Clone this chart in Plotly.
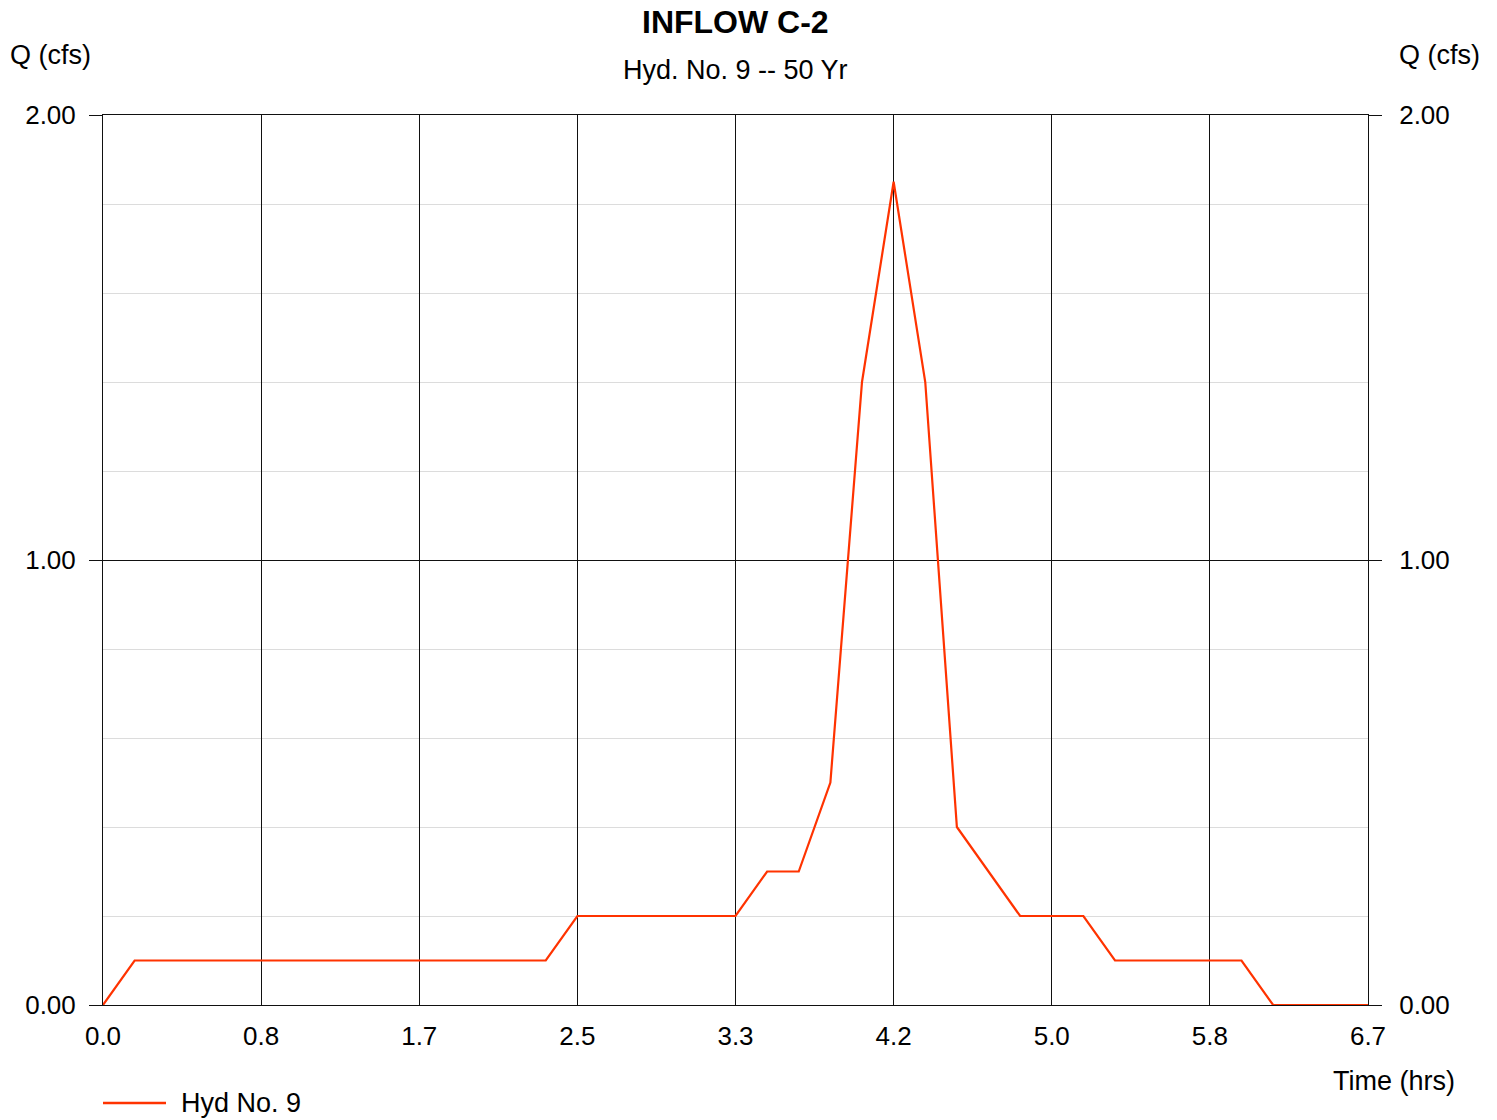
import plotly.graph_objects as go

# ---- data ----
TIME_STEP_HRS = 0.1675
q_cfs = [0.0,
         0.1, 0.1, 0.1, 0.1, 0.1, 0.1, 0.1, 0.1, 0.1, 0.1, 0.1, 0.1, 0.1, 0.1,
         0.2, 0.2, 0.2, 0.2, 0.2, 0.2,
         0.3, 0.3, 0.5, 1.4, 1.85, 1.4, 0.4, 0.3,
         0.2, 0.2, 0.2,
         0.1, 0.1, 0.1, 0.1, 0.1,
         0.0, 0.0, 0.0, 0.0]
time_hrs = [i * TIME_STEP_HRS for i in range(len(q_cfs))]

x_tick_vals = [0.0, 0.8375, 1.675, 2.5125, 3.35, 4.1875, 5.025, 5.8625, 6.7]
x_tick_text = ["0.0", "0.8", "1.7", "2.5", "3.3", "4.2", "5.0", "5.8", "6.7"]
y_tick_vals = [0.0, 1.0, 2.0]
y_tick_text = ["0.00", "1.00", "2.00"]

series_name = "Hyd No. 9"
title_text = "INFLOW C-2"
subtitle_text = "Hyd. No. 9 -- 50 Yr"

FONT = "Liberation Sans, Arial, Helvetica, sans-serif"
LINE_COLOR = "#ff3300"

fig = go.Figure()
fig.add_trace(go.Scatter(x=time_hrs, y=q_cfs, mode="lines", name=series_name,
                         line=dict(color=LINE_COLOR, width=2.2), showlegend=False))
fig.add_trace(go.Scatter(x=[None], y=[None], yaxis="y2", showlegend=False,
                         hoverinfo="skip"))

fig.update_layout(
    width=1497, height=1120,
    margin=dict(l=103, r=129, t=115, b=115),
    paper_bgcolor="white", plot_bgcolor="white",
    font=dict(family=FONT, size=26, color="black"),
    xaxis=dict(range=[0, 6.7], tickvals=x_tick_vals, ticktext=x_tick_text,
               showgrid=True, gridcolor="#111111", gridwidth=1,
               ticks="", zeroline=False, showline=True, mirror=True,
               linecolor="#111111", linewidth=1, ticklabelstandoff=8,
               tickfont=dict(size=26)),
    yaxis=dict(range=[0, 2], tickvals=y_tick_vals, ticktext=y_tick_text,
               showgrid=True, gridcolor="#111111", gridwidth=1,
               minor=dict(dtick=0.2, showgrid=True, gridcolor="#dcdcdc", ticks=""),
               ticks="outside", ticklen=13, tickcolor="#111111", tickwidth=1,
               zeroline=False, showline=True, linecolor="#111111",
               ticklabelstandoff=8, tickfont=dict(size=26)),
    yaxis2=dict(range=[0, 2], tickvals=y_tick_vals, ticktext=y_tick_text,
                overlaying="y", side="right", showgrid=False,
                ticks="outside", ticklen=13, tickcolor="#111111", tickwidth=1,
                zeroline=False, showline=True, linecolor="#111111",
                ticklabelstandoff=12, tickfont=dict(size=26)),
)

annos = [
    dict(text="<b>" + title_text + "</b>", x=0.5, y=1.1045, font=dict(size=32),
         xanchor="center", yanchor="middle"),
    dict(text=subtitle_text, x=0.5, y=1.0506, font=dict(size=27),
         xanchor="center", yanchor="middle"),
    dict(text="Q (cfs)", x=-0.0751, y=1.0674, font=dict(size=27),
         xanchor="left", yanchor="middle"),
    dict(text="Q (cfs)", x=1.0229, y=1.0674, font=dict(size=27),
         xanchor="left", yanchor="middle"),
    dict(text="Time (hrs)", x=0.9708, y=-0.0854, font=dict(size=27),
         xanchor="left", yanchor="middle"),
    dict(text=series_name, x=0.0601, y=-0.1101, font=dict(size=27),
         xanchor="left", yanchor="middle"),
]
for a in annos:
    fig.add_annotation(xref="paper", yref="paper", showarrow=False, **a)

fig.add_shape(type="line", xref="paper", yref="paper", x0=0, x1=0.0498,
              y0=-0.1101, y1=-0.1101, line=dict(color=LINE_COLOR, width=2.5))

fig.write_html("out.html")
